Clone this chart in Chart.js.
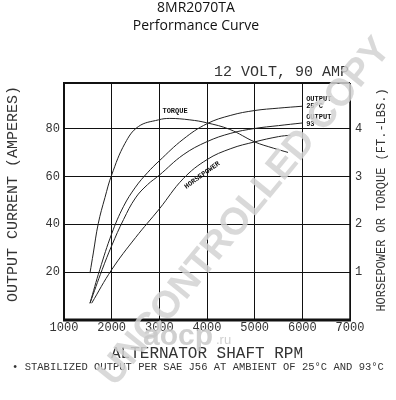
<!DOCTYPE html>
<html>

<head>
  <script src="https://cdn.jsdelivr.net/npm/chart.js@4/dist/chart.umd.min.js"></script>
  <style>
    body { margin: 0; background: #fff; }
    .chart-container { position: relative; width: 396px; height: 400px; }
  </style>
</head>

<body>
  <div class="chart-container">
    <canvas id="perfChart"></canvas>
  </div>
  <script type="text/javascript">
    // output current (amps), stabilized at 25C and 93C
    var rpm25 = [1545, 1750, 2000, 2250, 2500, 2750, 3000, 3500, 4000, 4500, 5000, 5500, 6000];
    var amps25 = [7, 21, 36, 47.5, 55.5, 61.5, 66.5, 75.5, 82, 85.5, 87.5, 88.5, 89.3];
    var rpm93 = [1545, 1800, 2000, 2250, 2500, 2750, 3000, 3500, 4000, 4500, 5000, 5500, 6000];
    var amps93 = [7, 21, 31, 42, 51, 56.5, 60.5, 69, 74.5, 78, 80, 81.2, 82.3];
    // torque (ft-lbs) and horsepower, right hand axis
    var rpmTorque = [1545, 1615, 1720, 1860, 2000, 2280, 2560, 2980, 3220, 3640, 3990, 4480, 5000, 5390, 5700];
    var torque = [0.98, 1.40, 2.02, 2.56, 3.03, 3.69, 4.04, 4.18, 4.21, 4.18, 4.12, 3.98, 3.72, 3.59, 3.50];
    var rpmHp = [1580, 2000, 2500, 3000, 3500, 4000, 4500, 5000, 5500, 5750];
    var hp = [0.35, 1.05, 1.72, 2.32, 2.95, 3.35, 3.58, 3.72, 3.83, 3.86];

    var rpmTicks = [1000, 2000, 3000, 4000, 5000, 6000, 7000];
    var ampTicks = [20, 40, 60, 80];
    var rightTicks = [1, 2, 3, 4];

    var CAD = '"Liberation Mono", "DejaVu Sans Mono", monospace';
    var INK = '#222';

    function pts(xs, ys) {
      return xs.map(function(x, i) { return { x: x, y: ys[i] }; });
    }

    function curve(data, axis) {
      return {
        data: data,
        yAxisID: axis,
        showLine: true,
        borderColor: INK,
        borderWidth: 1,
        pointRadius: 0,
        tension: 0.4,
        fill: false
      };
    }

    function plain(v) { return String(v); }

    // frame, titles, curve labels and the stamp on top
    var extras = {
      id: 'extras',
      afterDraw: function(chart) {
        var c = chart.ctx;
        var a = chart.chartArea;
        var sx = chart.scales.x, sy = chart.scales.y;
        c.save();
        c.strokeStyle = '#111';
        c.lineWidth = 2;
        c.beginPath();
        c.moveTo(a.left, a.bottom);
        c.lineTo(a.left, a.top);
        c.lineTo(a.right, a.top);
        c.stroke();
        c.lineWidth = 1.5;
        c.beginPath();
        c.moveTo(a.right, a.top);
        c.lineTo(a.right, a.bottom);
        c.stroke();
        c.lineWidth = 3;
        c.beginPath();
        c.moveTo(a.left - 1, a.bottom);
        c.lineTo(a.right + 1, a.bottom);
        c.stroke();

        c.fillStyle = '#111';
        c.textAlign = 'center';
        c.textBaseline = 'middle';
        c.font = '14px "Open Sans", sans-serif';
        c.fillText('8MR2070TA', 196, 8);
        c.fillText('Performance Curve', 196, 26);

        c.fillStyle = '#333';
        c.font = '15px ' + CAD;
        c.textAlign = 'right';
        c.fillText('12 VOLT, 90 AMP', 349, 72);

        c.textAlign = 'center';
        c.font = '10.5px ' + CAD;
        c.fillText('\u2022 STABILIZED OUTPUT PER SAE J56 AT AMBIENT OF 25\u00B0C AND 93\u00B0C', 198, 367);

        c.save();
        c.translate(13, 194);
        c.rotate(-Math.PI / 2);
        c.font = '15px ' + CAD;
        c.fillText('OUTPUT CURRENT (AMPERES)', 0, 0);
        c.restore();
        c.save();
        c.translate(382, 200);
        c.rotate(-Math.PI / 2);
        c.font = '12px ' + CAD;
        c.fillText('HORSEPOWER OR TORQUE (FT.-LBS.)', 0, 0);
        c.restore();

        // curve labels
        c.fillStyle = '#111';
        c.font = 'bold 7px ' + CAD;
        c.fillText('TORQUE', sx.getPixelForValue(3330), sy.getPixelForValue(87.2));
        c.textAlign = 'left';
        c.fillText('OUTPUT', sx.getPixelForValue(6080), sy.getPixelForValue(92.3));
        c.fillText('25\u00B0C', sx.getPixelForValue(6080), sy.getPixelForValue(89.3));
        c.fillText('OUTPUT', sx.getPixelForValue(6080), sy.getPixelForValue(84.7));
        c.fillText('93', sx.getPixelForValue(6080), sy.getPixelForValue(81.8));
        c.save();
        c.translate(sx.getPixelForValue(3900), sy.getPixelForValue(60.5));
        c.rotate(-36 * Math.PI / 180);
        c.textAlign = 'center';
        c.fillText('HORSEPOWER', 0, 0);
        c.restore();

        // watermark
        c.save();
        c.translate(245, 212);
        c.rotate(-50.6 * Math.PI / 180);
        c.font = 'bold 38px "Liberation Sans", sans-serif';
        c.fillStyle = 'rgba(210,210,210,0.85)';
        c.textAlign = 'center';
        c.fillText('UNCONTROLLED COPY', 0, 0);
        c.restore();
        c.fillStyle = 'rgba(200,200,200,0.85)';
        c.textAlign = 'left';
        c.font = 'bold 30px "Liberation Sans", sans-serif';
        c.fillText('aocp', 143, 337);
        c.font = '13px "Liberation Sans", sans-serif';
        c.fillText('.ru', 216, 340);
        c.restore();
      }
    };

    var ctx = document.getElementById('perfChart').getContext('2d');
    var chart = new Chart(ctx, {
      type: 'scatter',
      data: {
        datasets: [
          curve(pts(rpm25, amps25), 'y'),
          curve(pts(rpm93, amps93), 'y'),
          curve(pts(rpmTorque, torque), 'y1'),
          curve(pts(rpmHp, hp), 'y1')
        ]
      },
      options: {
        responsive: true,
        maintainAspectRatio: false,
        animation: false,
        layout: { padding: { top: 83, left: 0, right: 0, bottom: 0 } },
        plugins: {
          legend: { display: false },
          tooltip: { enabled: false }
        },
        scales: {
          x: {
            type: 'linear',
            min: 1000,
            max: 7000,
            afterBuildTicks: function(s) {
              s.ticks = rpmTicks.map(function(v) { return { value: v }; });
            },
            afterFit: function(s) { s.height = 80; },
            border: { display: false },
            grid: { color: '#111', lineWidth: 1, drawTicks: false },
            ticks: {
              padding: 1,
              maxRotation: 0,
              autoSkip: false,
              color: '#333',
              font: { family: CAD, size: 12 },
              callback: plain
            },
            title: {
              display: true,
              text: 'ALTERNATOR SHAFT RPM',
              color: '#333',
              font: { family: CAD, size: 16 },
              padding: { top: 0, bottom: 37 }
            }
          },
          y: {
            position: 'left',
            min: 0,
            max: 99,
            afterBuildTicks: function(s) {
              s.ticks = ampTicks.map(function(v) { return { value: v }; });
            },
            afterFit: function(s) { s.width = 64; },
            border: { display: false },
            grid: { color: '#111', lineWidth: 1, drawTicks: false },
            ticks: {
              padding: 4,
              color: '#333',
              font: { family: CAD, size: 12 },
              callback: plain
            }
          },
          y1: {
            position: 'right',
            min: 0,
            max: 4.95,
            afterBuildTicks: function(s) {
              s.ticks = rightTicks.map(function(v) { return { value: v }; });
            },
            afterFit: function(s) { s.width = 46; },
            border: { display: false },
            grid: { display: false, drawTicks: false },
            ticks: {
              padding: 5,
              color: '#333',
              font: { family: CAD, size: 12 },
              callback: plain
            }
          }
        }
      },
      plugins: [extras]
    });
  </script>
</body>

</html>
